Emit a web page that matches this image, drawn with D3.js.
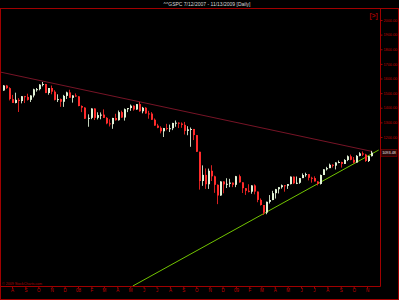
<!DOCTYPE html>
<html>
<head>
<meta charset="utf-8">
<script src="https://cdn.jsdelivr.net/npm/d3@7"></script>
<style>
body { margin:0; background:#000; }
svg { display:block; font-family:"Liberation Sans", Arial, sans-serif; }
</style>
</head>
<body>
<svg id="chart"></svg>
<script>
var W = 399, H = 300;
var plotL = 0.5, plotR = 380.5, plotT = 8.5, plotB = 286.5;

// weekly OHLC, week ending Fri 7/13/2007 .. 11/13/2009
var opens = [
	1518,1552,1534,1459,1433,1454,1446,1479,1474,1454,1484,1526,1527,1558,1562,1501,1535,1510,1454,1459,1441,1481,1505,1468,1484,
	1478,1412,1401,1325,1331,1395,1331,1350,1353,1331,1293,1288,1330,1315,1370,1333,1390,1398,1414,1388,1425,1376,1400,1361,1360,1318,
	1278,1263,1239,1261,1258,1260,1296,1298,1292,1283,1242,1252,1255,1213,1099,899,941,877,969,931,873,800,896,876,880,888,
	873,932,890,850,832,826,869,827,770,735,683,757,769,816,843,857,870,866,878,929,883,887,919,940,946,921,919,896,879,940,
	979,987,1010,1004,1026,1029,1016,1043,1068,1044,1025,1071,1088,1080,1036,1069];
var highs = [
	1555,1556,1540,1488,1503,1466,1479,1481,1496,1485,1530,1535,1561,1576,1563,1535,1552,1520,1492,1463,1488,1510,1523,1485,1498,
	1479,1416,1404,1355,1396,1396,1369,1368,1389,1336,1321,1331,1359,1381,1380,1395,1398,1422,1416,1425,1440,1406,1404,1379,1370,1327,
	1290,1273,1262,1290,1285,1297,1313,1300,1300,1303,1274,1265,1255,1214,1099,1006,985,984,1007,936,876,897,897,918,914,888,
	934,943,891,851,877,870,876,827,780,735,758,803,832,845,857,875,870,878,930,930,930,920,951,956,946,928,931,898,943,979,
	996,1018,1013,1027,1039,1031,1048,1074,1080,1063,1076,1096,1101,1085,1071,1105];
var lows = [
	1516,1529,1450,1433,1430,1371,1430,1432,1449,1439,1471,1510,1519,1546,1500,1489,1492,1450,1439,1406,1406,1460,1467,1435,1475,
	1410,1370,1324,1270,1322,1316,1320,1321,1330,1287,1272,1256,1312,1312,1331,1312,1370,1379,1380,1386,1373,1362,1359,1325,1317,1277,
	1260,1225,1200,1245,1234,1247,1270,1261,1263,1217,1212,1133,1179,1098,840,866,845,845,899,818,741,798,815,851,857,857,
	857,888,817,804,821,812,808,754,731,667,672,745,768,779,814,847,826,845,876,878,878,880,919,928,903,888,896,869,875,940,
	971,987,991,978,1021,991,1016,1035,1041,1019,1025,1068,1070,1030,1029,1067];
var closes = [
	1552,1534,1459,1433,1454,1446,1479,1474,1454,1484,1526,1527,1558,1562,1501,1535,1510,1454,1459,1441,1481,1505,1468,1484,1478,
	1412,1401,1325,1331,1395,1331,1350,1353,1331,1293,1288,1330,1315,1370,1333,1390,1398,1414,1388,1425,1376,1400,1361,1360,1318,1278,
	1263,1239,1261,1258,1260,1296,1298,1292,1283,1242,1252,1255,1213,1099,899,941,877,969,931,873,800,896,876,880,888,873,
	932,890,850,832,826,869,827,770,735,683,757,769,816,843,857,870,866,878,929,883,887,919,940,946,921,919,896,879,940,979,
	987,1010,1004,1026,1029,1016,1043,1068,1044,1025,1071,1088,1080,1036,1069,1093];

var lastClose = 1093.48;
var yTicks = [1200,1300,1400,1500,1600,1700,1800,1900,2000];
var monthLabels = ["A","S","O","N","D","08","F","M","A","M","J","J","A","S","O","N","D",
	"09","F","M","A","M","J","J","A","S","O","N"];

// trend lines [date, price]
var resistLine = [["2007-07-05",1644],["2009-11-13",1101]];
var supportLine = [["2008-05-07",181],["2009-11-28",1111]];

var titleText = "^^GSPC  7/12/2007 - 11/13/2009 [Daily]";
var copyText = "\u00a9 2009 StockCharts.com";

var parse = d3.timeParse("%Y-%m-%d");
var weeks = d3.timeFriday.range(new Date(2007,6,13), new Date(2009,10,14));

var svg = d3.select('#chart')
	.attr('width', W)
	.attr('height', H);

svg.append('rect').attr('width', W).attr('height', H).attr('fill', '#000');

var x = d3.scaleTime()
	.domain([new Date(2007,6,6), new Date(2009,11,1)])
	.range([0.8, 380]);

var y = d3.scaleLinear()
	.domain([2000,1200])
	.range([20,137]);

svg.append('clipPath').attr('id','plotclip')
	.append('rect')
	.attr('x', plotL).attr('y', plotT)
	.attr('width', plotR-plotL).attr('height', plotB-plotT);

var plot = svg.append('g').attr('clip-path','url(#plotclip)');

// trend lines
var tline = d3.line()
	.x(function(d){ return x(parse(d[0])); })
	.y(function(d){ return y(d[1]); });

plot.append('path').attr('d', tline(resistLine))
	.attr('fill','none').attr('stroke','#761426').attr('stroke-width',1);
plot.append('path').attr('d', tline(supportLine))
	.attr('fill','none').attr('stroke','#72c400').attr('stroke-width',1);

// candles
var candles = plot.selectAll('g.candle')
	.data(weeks)
	.enter().append('g')
	.attr('class','candle');

function cx(i) { return Math.round(x(d3.timeDay.offset(weeks[i], -2))); }
function upColor(i) { return closes[i] >= opens[i] ? '#e2f2d6' : '#ff2b2b'; }

candles.append('line')
	.attr('x1', function(d,i){ return cx(i)+0.5; })
	.attr('x2', function(d,i){ return cx(i)+0.5; })
	.attr('y1', function(d,i){ return y(highs[i]); })
	.attr('y2', function(d,i){ return y(lows[i]); })
	.attr('stroke', function(d,i){ return closes[i] >= opens[i] ? '#c4d4bc' : '#d82020'; })
	.attr('stroke-width', 1);

candles.append('rect')
	.attr('x', function(d,i){ return cx(i); })
	.attr('width', 2)
	.attr('y', function(d,i){ return y(Math.max(opens[i], closes[i])); })
	.attr('height', function(d,i){ return Math.max(1, Math.abs(y(opens[i]) - y(closes[i]))); })
	.attr('fill', function(d,i){ return upColor(i); });

// frame
var frameColor = '#a00000';
svg.append('line').attr('x1',0).attr('x2',W).attr('y1',8.5).attr('y2',8.5).attr('stroke',frameColor);
svg.append('line').attr('x1',0.5).attr('x2',0.5).attr('y1',8).attr('y2',H).attr('stroke',frameColor);
svg.append('line').attr('x1',398.5).attr('x2',398.5).attr('y1',8).attr('y2',H).attr('stroke',frameColor);
svg.append('line').attr('x1',0).attr('x2',W).attr('y1',299.5).attr('y2',299.5).attr('stroke',frameColor);
svg.append('line').attr('x1',plotR).attr('x2',plotR).attr('y1',8).attr('y2',plotB).attr('stroke',frameColor);
svg.append('line').attr('x1',0).attr('x2',plotR).attr('y1',plotB).attr('y2',plotB).attr('stroke',frameColor);

// x axis
var monthTicks = d3.timeMonth.range(new Date(2007,7,1), new Date(2009,10,2));
var xAxis = d3.axisBottom(x)
	.tickValues(monthTicks)
	.tickSize(2)
	.tickPadding(0)
	.tickFormat(function(d,i){ return monthLabels[i]; });

var gx = svg.append('g').attr('transform','translate(0,' + plotB + ')').call(xAxis);
gx.select('.domain').remove();
gx.selectAll('line').attr('stroke', frameColor);
gx.selectAll('text').attr('fill','#c00000').style('font-size','4.5px').style('font-family','"Liberation Sans", Arial, sans-serif');

// y axis
var yAxis = d3.axisRight(y)
	.tickValues(yTicks)
	.tickSize(2)
	.tickPadding(1)
	.tickFormat(d3.format('.2f'));

var gy = svg.append('g').attr('transform','translate(' + plotR + ',0)').call(yAxis);
gy.select('.domain').remove();
gy.selectAll('line').attr('stroke', frameColor);
gy.selectAll('text').attr('fill','#c00000').style('font-size','3.8px').style('font-family','"Liberation Sans", Arial, sans-serif');

// last price box
var py = y(lastClose);
svg.append('rect')
	.attr('x', 381).attr('y', Math.round(py)-3.5)
	.attr('width', 16).attr('height', 7)
	.attr('fill','#2a0606').attr('stroke','#8a0000').attr('stroke-width',0.6);
svg.append('text')
	.attr('x', 389).attr('y', py+1.4)
	.attr('text-anchor','middle')
	.attr('fill','#e8e8e8')
	.style('font-size','3.8px')
	.text(d3.format('.2f')(lastClose));

// title, icon, copyright
svg.append('text')
	.attr('x', 207).attr('y', 6)
	.attr('text-anchor','middle')
	.attr('fill','#d8d8d8')
	.style('font-size','5px')
	.text(titleText);

svg.append('text')
	.attr('x', 369.5).attr('y', 17.5)
	.attr('fill','#a00000')
	.style('font-size','6.5px')
	.style('font-weight','bold')
	.text('[>]');

svg.append('text')
	.attr('x', 2).attr('y', 284.5)
	.attr('fill','#b00000')
	.style('font-size','3.6px')
	.text(copyText);
</script>
</body>
</html>
